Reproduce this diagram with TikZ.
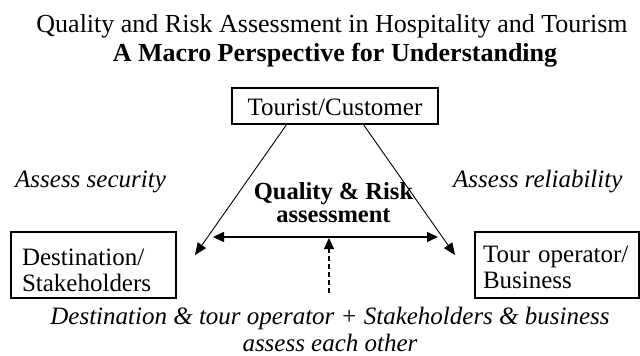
\documentclass[tikz,border=0pt]{standalone}
\usepackage{fontspec}
\setmainfont{Liberation Serif}
\usetikzlibrary{arrows.meta}
\begin{document}
\begin{tikzpicture}[x=1pt,y=-1pt,
  box/.style={draw, line width=1.2pt, inner ysep=0pt, outer sep=0pt,
    font=\fontsize{25}{26}\selectfont},
  titlefont/.style={font=\fontsize{26}{30}\selectfont},
  note/.style={font=\fontsize{25}{27}\selectfont\itshape, inner sep=0pt},
  link/.style={line width=0.9pt, -{Triangle[length=12pt,width=10pt]}},
  mutual/.style={line width=1.5pt, {Triangle[length=11pt,width=10pt]}-{Triangle[length=11pt,width=10pt]}},
  upward/.style={line width=1.1pt, dash pattern=on 5pt off 3pt, -{Triangle[length=11pt,width=10pt]}}]

\useasboundingbox (0,0) rectangle (640,356);

% heading
\node[titlefont, anchor=base, inner sep=0pt] (title) at (332,32)
  {Quality and Risk Assessment in Hospitality and Tourism};
\node[titlefont, font=\fontsize{26}{30}\selectfont\bfseries, anchor=base, inner sep=0pt] (subtitle) at (335,61)
  {A Macro Perspective for Understanding};

% the three parties
\node[box, minimum width=206pt, minimum height=36pt, text height=18pt, text depth=0pt] (tourist) at (335,106)
  {Tourist/Customer};
\node[box, anchor=north west, inner xsep=11pt, text width=143pt, align=left] (dest) at (11,232)
  {\rule{0pt}{33pt}Destination/\\Stakeholders\rule[-7pt]{0pt}{7pt}};
\node[box, anchor=north west, inner xsep=8pt, text width=148pt, align=left] (oper) at (475,232)
  {\rule{0pt}{30pt}Tour operator/\\Business\rule[-10pt]{0pt}{10pt}};

% side labels
\node[note, anchor=base west] (security) at (15,187) {Assess security};
\node[note, anchor=base west] (reliability) at (453,187) {Assess reliability};

% centre label
\node[font=\fontsize{24.5}{23}\selectfont\bfseries, align=center, inner sep=0pt] (qr) at (333.5,202.9)
  {Quality \& Risk\\assessment};

% bottom label
\node[note, align=center] (mutualnote) at (330,329.2)
  {Destination \& tour operator + Stakeholders \& business\\assess each other};

% arrow ends
\coordinate (ltip) at (195,255);
\coordinate (rtip) at (455,255);
\coordinate (hl) at (213,237);
\coordinate (hr) at (438,237);
\coordinate (up) at (329,238);

\draw[link] ([xshift=-48pt]tourist.south) -- (ltip);
\draw[link] ([xshift=28pt]tourist.south) -- (rtip);
\draw[mutual] (hl) -- (hr);
\draw[upward] (mutualnote.north -| up) ++(0,-14) -- (up);
\end{tikzpicture}
\end{document}
